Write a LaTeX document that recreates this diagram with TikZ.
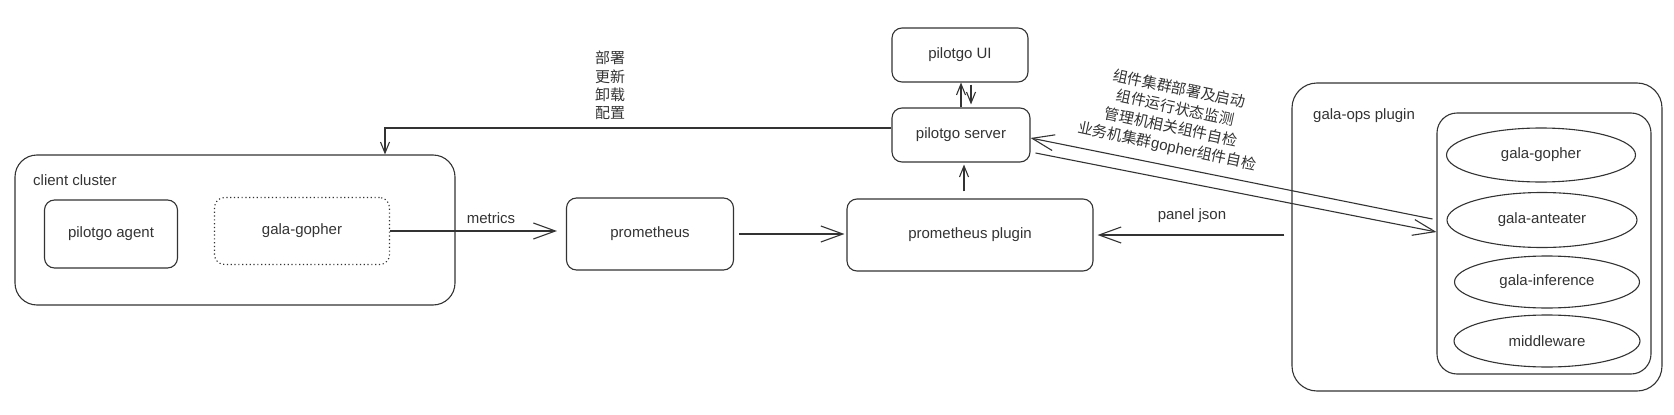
\documentclass[tikz,border=0pt]{standalone}
\usepackage{fontspec}
\setmainfont{Liberation Sans}
\newfontfamily\cjk{Noto Sans CJK SC}
\usetikzlibrary{arrows.meta,shapes.geometric}
\definecolor{ink}{HTML}{333333}
\tikzset{
	box/.style={draw=ink, line width=1.1pt, rounded corners=10pt, text=ink, inner sep=0pt, font=\fontsize{15}{18}\selectfont},
	oval/.style={ellipse, draw=ink, line width=1.1pt, text=ink, inner sep=0pt, font=\fontsize{15}{18}\selectfont},
	lbl/.style={text=ink, inner sep=0pt, font=\fontsize{15}{18}\selectfont},
	arr/.style={draw=ink, line width=1.1pt, -{Straight Barb[length=22pt,width=16pt]}},
	arrs/.style={draw=ink, line width=1.1pt, -{Straight Barb[length=11pt,width=9pt]}}
}

\begin{document}
\begin{tikzpicture}[x=1pt, y=-1pt]
			%%%%% START %%%%%
			\useasboundingbox (0,0) rectangle (1674,415);
			
			\node[box, minimum width=136pt, minimum height=54pt] (ui) at (960,55) {pilotgo UI};
			\node[box, minimum width=138pt, minimum height=54pt] (server) at (961,135) {pilotgo server};
			\node[box, minimum width=246pt, minimum height=72pt] (plugin) at (970,235) {prometheus plugin};
			\node[box, minimum width=167pt, minimum height=72pt] (prom) at (650,234) {prometheus};
			
			\node[box, rounded corners=22pt, minimum width=440pt, minimum height=150pt] (cluster) at (235,230) {};
			\node[lbl, anchor=west] (clusterlbl) at (33,180) {client cluster};
			\node[box, minimum width=133pt, minimum height=68pt] (agent) at (111,234) {pilotgo agent};
			\node[box, dash pattern=on 1.2pt off 2.6pt, minimum width=175pt, minimum height=67pt] (gopher) at (302,231) {gala-gopher};
			
			\node[box, rounded corners=25pt, minimum width=370pt, minimum height=308pt] (ops) at (1477,237) {};
			\node[lbl, anchor=west] (opslbl) at (1313,116) {gala-ops plugin};
			\node[box, rounded corners=20pt, minimum width=214pt, minimum height=261pt] (inner) at (1544,243.5) {};
			\node[oval, minimum width=189pt, minimum height=54pt] (ggopher) at (1541,155) {gala-gopher};
			\node[oval, minimum width=190pt, minimum height=55pt] (anteater) at (1542,220) {gala-anteater};
			\node[oval, minimum width=185pt, minimum height=52pt] (inference) at (1547,282) {gala-inference};
			\node[oval, minimum width=186pt, minimum height=52pt] (middleware) at (1547,341) {middleware};
			
			\node[lbl] (metrics) at (491,218) {metrics};
			\node[lbl] (json) at (1192,216) {panel json};
			\node[lbl, anchor=north west, align=left, font=\cjk\fontsize{15}{18.3}\selectfont] (manage) at (595,51) {部署\\更新\\卸载\\配置};
			\node[lbl, rotate=-12, align=center, font=\cjk\fontsize{15}{19.5}\selectfont] (tasks) at (1173,118) {组件集群部署及启动\\组件运行状态监测\\管理机相关组件自检\\业务机集群{\rmfamily gopher}组件自检};
			
			% connectors
			\draw[arrs] ([yshift=7pt]server.west) -| ([xshift=150pt]cluster.north);
			\draw[arr, shorten >=9pt] (gopher.east) -- (gopher.east -| prom.west);
			\draw[arr, shorten <=5pt, shorten >=2pt] (prom.east) -- (prom.east -| plugin.west);
			\draw[arr, shorten <=7pt, shorten >=4pt] (ops.west |- plugin.east) -- (plugin.east);
			\draw[arrs, shorten <=7pt, shorten >=2pt] ([xshift=-6pt]plugin.north) -- ([xshift=3pt]server.south);
			\draw[arrs] (server.north) -- (server.north |- ui.south);
			\draw[arrs, shorten <=2pt, shorten >=3pt] ([xshift=11pt]ui.south) -- ([xshift=11pt]ui.south |- server.north);
			\draw[arr] ([xshift=-4pt, yshift=24.5pt]inner.west) -- ([yshift=-3pt]server.east);
			\draw[arr] ([xshift=5pt, yshift=-18pt]server.east) -- ([yshift=11.5pt]inner.west);
			
			%%%%% END %%%%%
\end{tikzpicture}
\end{document}
